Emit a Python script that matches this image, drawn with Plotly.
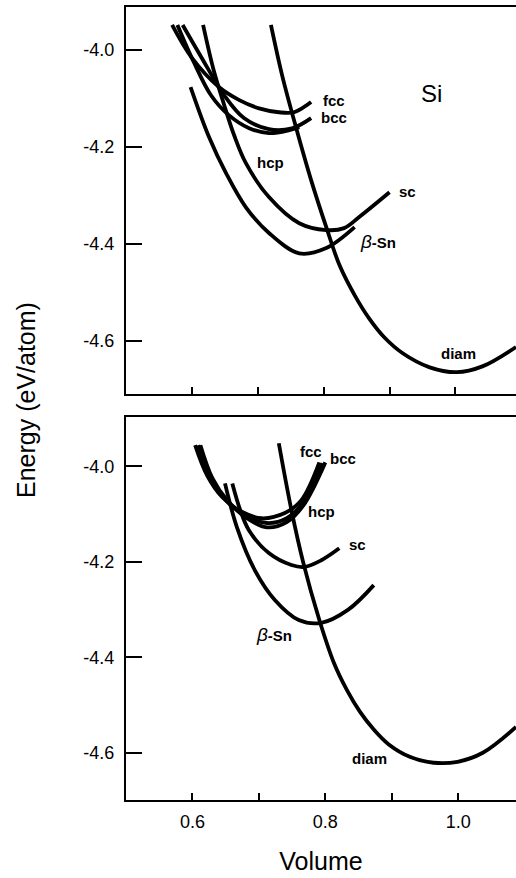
import plotly.graph_objects as go
from plotly.subplots import make_subplots

# ---------------- data: top panel ----------------
top_fcc_x = [0.570, 0.600, 0.641, 0.672, 0.702, 0.732, 0.755, 0.781]
top_fcc_y = [-3.948, -4.016, -4.076, -4.103, -4.120, -4.128, -4.128, -4.107]
top_bcc_x = [0.586, 0.615, 0.649, 0.679, 0.717, 0.752, 0.781]
top_bcc_y = [-3.948, -4.016, -4.093, -4.140, -4.163, -4.161, -4.140]
top_hcp_x = [0.578, 0.603, 0.629, 0.656, 0.687, 0.717, 0.748, 0.763]
top_hcp_y = [-3.948, -4.025, -4.093, -4.134, -4.161, -4.171, -4.165, -4.159]
top_sc_x = [0.617, 0.633, 0.649, 0.664, 0.682, 0.717, 0.763, 0.804, 0.831, 0.854, 0.900]
top_sc_y = [-3.948, -4.041, -4.113, -4.175, -4.233, -4.303, -4.357, -4.371, -4.367, -4.344, -4.293]
top_bsn_x = [0.598, 0.626, 0.652, 0.682, 0.717, 0.763, 0.804, 0.847]
top_bsn_y = [-4.076, -4.179, -4.254, -4.324, -4.377, -4.419, -4.408, -4.365]
top_diam_x = [0.720, 0.737, 0.758, 0.781, 0.804, 0.824, 0.847, 0.869, 0.892, 0.920, 0.961, 1.002, 1.041, 1.092]
top_diam_y = [-3.948, -4.052, -4.159, -4.268, -4.365, -4.443, -4.505, -4.553, -4.592, -4.625, -4.654, -4.664, -4.652, -4.612]

# ---------------- data: bottom panel ----------------
bot_fcc_x = [0.604, 0.622, 0.645, 0.675, 0.704, 0.739, 0.764, 0.791]
bot_fcc_y = [-3.956, -4.019, -4.065, -4.096, -4.109, -4.098, -4.071, -3.992]
bot_bcc_x = [0.612, 0.630, 0.652, 0.682, 0.712, 0.742, 0.767, 0.800]
bot_bcc_y = [-3.956, -4.025, -4.071, -4.109, -4.128, -4.117, -4.082, -3.992]
bot_hcp_x = [0.609, 0.627, 0.649, 0.679, 0.712, 0.742, 0.767, 0.796]
bot_hcp_y = [-3.956, -4.023, -4.069, -4.103, -4.119, -4.109, -4.075, -3.994]
bot_sc_x = [0.660, 0.672, 0.685, 0.715, 0.749, 0.769, 0.794, 0.821]
bot_sc_y = [-4.036, -4.092, -4.134, -4.182, -4.207, -4.211, -4.197, -4.172]
bot_bsn_x = [0.649, 0.667, 0.694, 0.724, 0.760, 0.794, 0.834, 0.873]
bot_bsn_y = [-4.036, -4.128, -4.218, -4.280, -4.322, -4.328, -4.301, -4.249]
bot_diam_x = [0.730, 0.749, 0.767, 0.791, 0.813, 0.833, 0.852, 0.872, 0.895, 0.928, 0.963, 0.999, 1.037, 1.087]
bot_diam_y = [-3.952, -4.092, -4.203, -4.322, -4.412, -4.470, -4.514, -4.550, -4.582, -4.609, -4.621, -4.619, -4.600, -4.546]

# labels: (text, x, y)
BETA = '<span style="font-size:19px"><i>β</i></span><b>-Sn</b>'
top_labels = [("<b>fcc</b>", 0.815, -4.103), ("<b>bcc</b>", 0.816, -4.138), ("<b>hcp</b>", 0.720, -4.231),
              ("<b>sc</b>", 0.928, -4.291), (BETA, 0.883, -4.394), ("<b>diam</b>", 1.004, -4.625)]
bot_labels = [("<b>fcc</b>", 0.778, -3.970), ("<b>bcc</b>", 0.826, -3.984), ("<b>hcp</b>", 0.794, -4.094),
              ("<b>sc</b>", 0.848, -4.164), (BETA, 0.723, -4.352), ("<b>diam</b>", 0.866, -4.612)]

x_ticks = [0.6, 0.7, 0.8, 0.9, 1.0]
x_ticktext = ["0.6", "", "0.8", "", "1.0"]
y_ticks = [-4.0, -4.2, -4.4, -4.6]
y_ticktext = ["-4.0", "-4.2", "-4.4", "-4.6"]

FONT = "Liberation Sans, Arial, Helvetica"

fig = make_subplots(rows=2, cols=1, vertical_spacing=0.03)

top_series = [(top_fcc_x, top_fcc_y), (top_bcc_x, top_bcc_y), (top_hcp_x, top_hcp_y),
              (top_sc_x, top_sc_y), (top_bsn_x, top_bsn_y), (top_diam_x, top_diam_y)]
bot_series = [(bot_fcc_x, bot_fcc_y), (bot_bcc_x, bot_bcc_y), (bot_hcp_x, bot_hcp_y),
              (bot_sc_x, bot_sc_y), (bot_bsn_x, bot_bsn_y), (bot_diam_x, bot_diam_y)]

for row, series in ((1, top_series), (2, bot_series)):
    for xs, ys in series:
        fig.add_trace(go.Scatter(x=xs, y=ys, mode="lines",
                                 line=dict(color="black", width=3.8, shape="spline", smoothing=1.0),
                                 showlegend=False, hoverinfo="skip"), row=row, col=1)

lab_font = dict(family=FONT, size=15, color="black")
for row, labels in ((1, top_labels), (2, bot_labels)):
    xr = "x" if row == 1 else "x2"
    yr = "y" if row == 1 else "y2"
    for txt, lx, ly in labels:
        fig.add_annotation(x=lx, y=ly, xref=xr, yref=yr, text=txt, showarrow=False, font=lab_font)

fig.add_annotation(x=0.964, y=-4.089, xref="x", yref="y", text="Si", showarrow=False,
                   font=dict(family=FONT, size=24, color="black"))

W, H = 516, 878
ML, MR, MT, MB = 126, 0, 7, 78
plot_h = H - MT - MB

def fy(py):
    return (H - MB - py) / plot_h

fig.add_annotation(x=(26 - ML) / (W - ML - MR), y=fy(400), xref="paper", yref="paper",
                   text="Energy (eV/atom)", showarrow=False, textangle=-90,
                   xanchor="center", yanchor="middle",
                   font=dict(family=FONT, size=25, color="black"))

axis_common = dict(showgrid=False, zeroline=False, showline=True, linecolor="black", linewidth=2,
                   ticks="inside", tickcolor="black", tickwidth=2)

fig.update_layout(
    width=W, height=H, margin=dict(l=ML, r=MR, t=MT, b=MB),
    paper_bgcolor="white", plot_bgcolor="white",
    font=dict(family=FONT, size=18, color="black"),
    xaxis=dict(**axis_common, domain=[0, 1], range=[0.5, 1.092], tickvals=x_ticks,
               showticklabels=False, ticklen=7, mirror=True, anchor="y"),
    yaxis=dict(**axis_common, domain=[fy(394), fy(7)], range=[-4.709, -3.911], tickvals=y_ticks,
               ticktext=y_ticktext, ticklen=16, ticklabelstandoff=6),
    xaxis2=dict(**axis_common, domain=[0, 1], range=[0.5, 1.087], tickvals=x_ticks, ticktext=x_ticktext,
                ticklen=7, mirror=True, anchor="y2", ticklabelstandoff=4,
                title=dict(text="Volume", font=dict(size=25), standoff=22)),
    yaxis2=dict(**axis_common, domain=[fy(800), fy(417)], range=[-4.699, -3.897], tickvals=y_ticks,
                ticktext=y_ticktext, ticklen=16, ticklabelstandoff=6),
)

fig.write_html("out.html")
